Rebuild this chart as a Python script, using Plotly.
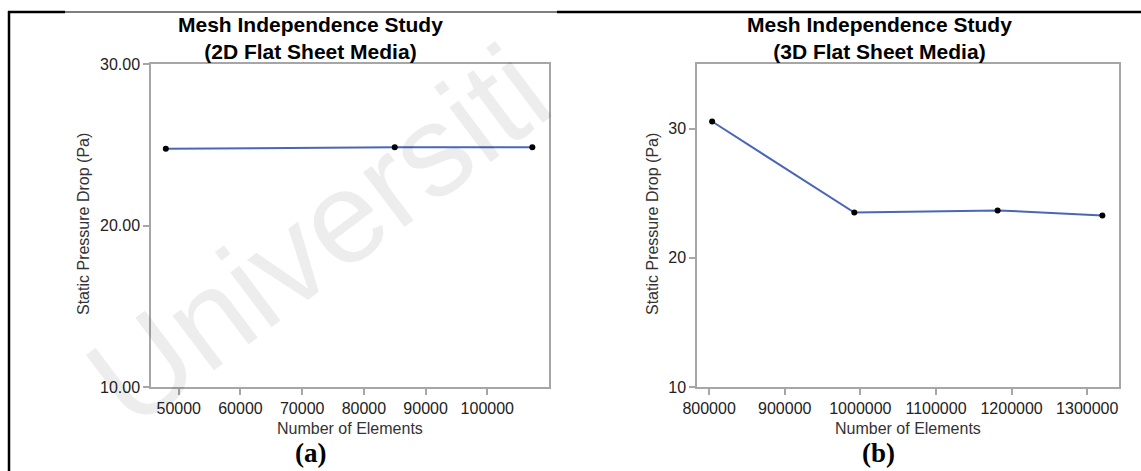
import plotly.graph_objects as go

W, H = 1141, 471

# Data
elements_2d = [47900, 85000, 107300]
pressure_2d = [24.75, 24.85, 24.85]
elements_3d = [804000, 992000, 1181500, 1320000]
pressure_3d = [30.55, 23.5, 23.67, 23.28]

title_2d = "Mesh Independence Study<br>(2D Flat Sheet Media)"
title_3d = "Mesh Independence Study<br>(3D Flat Sheet Media)"
xlabel = "Number of Elements"
ylabel = "Static Pressure Drop (Pa)"
ticks_2d_x = [50000, 60000, 70000, 80000, 90000, 100000]
ticks_3d_x = [800000, 900000, 1000000, 1100000, 1200000, 1300000]
ticks_y = [10, 20, 30]


def px(x):
    return x / W


def py(y):
    return 1 - y / H


LINE = "#4a67b5"
FRAME = "#a6a6a6"
TXT = "#222222"
FONT = "Arial, Liberation Sans, sans-serif"

fig = go.Figure()
fig.add_trace(go.Scatter(x=elements_2d, y=pressure_2d, mode="lines+markers",
                         line=dict(color=LINE, width=2),
                         marker=dict(color="black", size=6),
                         xaxis="x", yaxis="y", showlegend=False))
fig.add_trace(go.Scatter(x=elements_3d, y=pressure_3d, mode="lines+markers",
                         line=dict(color=LINE, width=2),
                         marker=dict(color="black", size=6),
                         xaxis="x2", yaxis="y2", showlegend=False))

axis_common = dict(showgrid=False, zeroline=False, showline=True, mirror=True,
                   linecolor=FRAME, linewidth=1.5, ticks="outside", tickcolor=FRAME,
                   ticklen=6, tickwidth=1.5, automargin=False,
                   tickfont=dict(family=FONT, size=16, color=TXT))

fig.update_layout(
    width=W, height=H,
    margin=dict(l=0, r=0, t=0, b=0, autoexpand=False),
    paper_bgcolor="white", plot_bgcolor="white",
    xaxis=dict(domain=[px(151), px(549)], range=[45500, 110000],
               tickvals=ticks_2d_x, tickformat="d", anchor="y", **axis_common),
    yaxis=dict(domain=[py(387), py(64)], range=[10, 30], tickvals=ticks_y,
               tickformat=".2f", anchor="x", **axis_common),
    xaxis2=dict(domain=[px(697), px(1119)], range=[784000, 1342000],
                tickvals=ticks_3d_x, tickformat="d", anchor="y2", **axis_common),
    yaxis2=dict(domain=[py(387), py(64)], range=[10, 35], tickvals=ticks_y,
                tickformat="d", anchor="x2", **axis_common),
)

ann = []
# faint watermark
ann.append(dict(text="Universiti", x=px(318), y=py(236), xref="paper", yref="paper",
                showarrow=False, textangle=-37, xanchor="center", yanchor="middle",
                font=dict(family=FONT, size=130, color="rgba(0,0,0,0.07)")))
# titles
for cx, t in [(310, title_2d), (879, title_3d)]:
    ann.append(dict(text="<b>" + t + "</b>", x=px(cx), y=py(38), xref="paper", yref="paper",
                    showarrow=False, xanchor="center", yanchor="middle",
                    font=dict(family=FONT, size=21, color="black")))
# axis titles
for cx in [350, 908]:
    ann.append(dict(text=xlabel, x=px(cx), y=py(428), xref="paper", yref="paper",
                    showarrow=False, xanchor="center", yanchor="middle",
                    font=dict(family=FONT, size=16, color="#333333")))
for cx in [83, 652]:
    ann.append(dict(text=ylabel, x=px(cx), y=py(224), xref="paper", yref="paper",
                    showarrow=False, textangle=-90, xanchor="center", yanchor="middle",
                    font=dict(family=FONT, size=16, color="#333333")))
# panel labels
for cx, t in [(310, "(a)"), (878, "(b)")]:
    ann.append(dict(text="<b>" + t + "</b>", x=px(cx), y=py(470), xref="paper", yref="paper",
                    showarrow=False, xanchor="center", yanchor="bottom",
                    font=dict(family="Times New Roman, Liberation Serif, serif", size=27, color="black")))
fig.update_layout(annotations=ann)

shapes = [
    dict(type="line", xref="paper", yref="paper", x0=px(8), x1=px(65), y0=py(12), y1=py(12),
         line=dict(color="black", width=2.5)),
    dict(type="line", xref="paper", yref="paper", x0=px(65), x1=px(557), y0=py(12), y1=py(12),
         line=dict(color="black", width=1.2)),
    dict(type="line", xref="paper", yref="paper", x0=px(557), x1=px(1141), y0=py(12), y1=py(12),
         line=dict(color="black", width=2.5)),
    dict(type="line", xref="paper", yref="paper", x0=px(9), x1=px(9), y0=py(11), y1=py(471),
         line=dict(color="black", width=2.5)),
]
fig.update_layout(shapes=shapes)

fig.write_html("out.html", config={"displayModeBar": False},
               post_script="document.body.style.margin='0';")
